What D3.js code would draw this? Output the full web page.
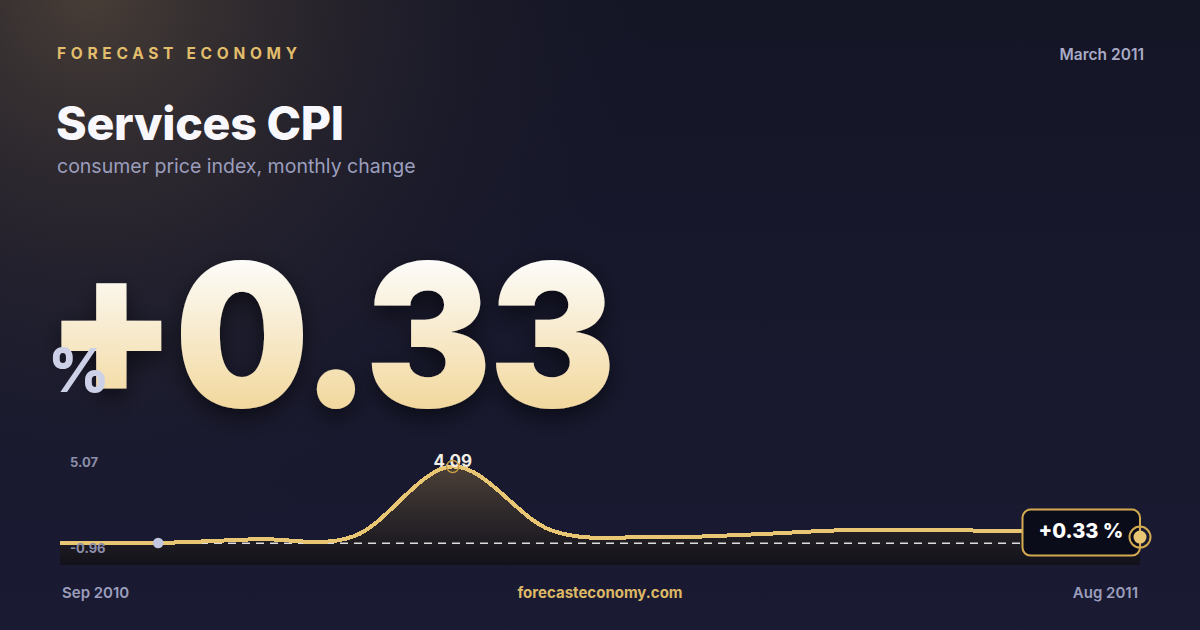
<!DOCTYPE html>
<html><head><meta charset="utf-8">
<script src="https://cdn.jsdelivr.net/npm/d3@7"></script>
<style>
html,body{margin:0;padding:0;background:#15162a;overflow:hidden;}
svg{display:block;font-family:Inter,"Noto Sans",sans-serif;}
</style>
</head><body>
<svg id="chart" width="1200" height="630"></svg>
<script>
// ---- data ----
const months = ["Sep 2010","Oct 2010","Nov 2010","Dec 2010","Jan 2011","Feb 2011","Mar 2011","Apr 2011","May 2011","Jun 2011","Jul 2011","Aug 2011"];
const values = [0.03, 0.02, 0.22, 0.39, 4.09, 0.70, 0.32, 0.46, 0.70, 0.70, 0.60, 0.33];
const yTickLabels = ["5.07", "-0.96"];
const xEndLabels = ["Sep 2010", "Aug 2011"];
const headlineSign = "+";
const headlineNumber = "0.33";
const headlineUnit = "%";
const brand = "FORECAST ECONOMY";
const dateLabel = "March 2011";
const title = "Services CPI";
const subtitle = "consumer price index, monthly change";
const site = "forecasteconomy.com";
const lastLabel = "+0.33 %";

// ---- setup ----
const svg = d3.select("#chart");
const W = 1200, H = 630;
const defs = svg.append("defs");

const bg = defs.append("linearGradient").attr("id","bg").attr("x1",0).attr("y1",0).attr("x2",0).attr("y2",1);
bg.append("stop").attr("offset","0%").attr("stop-color","#141525");
bg.append("stop").attr("offset","100%").attr("stop-color","#1a1b33");

const glow = defs.append("radialGradient").attr("id","glow").attr("gradientUnits","userSpaceOnUse")
  .attr("cx",90).attr("cy",-10).attr("r",560);
glow.append("stop").attr("offset","0%").attr("stop-color","#51453a").attr("stop-opacity",0.85);
glow.append("stop").attr("offset","45%").attr("stop-color","#3a3232").attr("stop-opacity",0.45);
glow.append("stop").attr("offset","100%").attr("stop-color","#1a1a2e").attr("stop-opacity",0);

const numGrad = defs.append("linearGradient").attr("id","numGrad").attr("gradientUnits","userSpaceOnUse")
  .attr("x1",0).attr("y1",260).attr("x2",0).attr("y2",408);
numGrad.append("stop").attr("offset","0%").attr("stop-color","#fdfcf9");
numGrad.append("stop").attr("offset","100%").attr("stop-color","#f2d89e");

const areaGrad = defs.append("linearGradient").attr("id","areaGrad").attr("gradientUnits","userSpaceOnUse")
  .attr("x1",0).attr("y1",448).attr("x2",0).attr("y2",565);
areaGrad.append("stop").attr("offset","0%").attr("stop-color","#5a4c3c").attr("stop-opacity",0.95);
areaGrad.append("stop").attr("offset","55%").attr("stop-color","#302a2b").attr("stop-opacity",0.95);
areaGrad.append("stop").attr("offset","100%").attr("stop-color","#121119").attr("stop-opacity",0.95);

const shadow = defs.append("filter").attr("id","shadow").attr("x","-20%").attr("y","-20%").attr("width","140%").attr("height","150%");
shadow.append("feDropShadow").attr("dx",0).attr("dy",8).attr("stdDeviation",12)
  .attr("flood-color","#000").attr("flood-opacity",0.55);

svg.append("rect").attr("width",W).attr("height",H).attr("fill","url(#bg)");
svg.append("rect").attr("width",W).attr("height",H).attr("fill","url(#glow)");

// ---- header ----
svg.append("text").attr("x",57).attr("y",59).text(brand)
  .attr("fill","#e2bd6b").attr("font-size",15.5).attr("font-weight",700).attr("letter-spacing",4.7);
svg.append("text").attr("x",1144).attr("y",60).attr("text-anchor","end").text(dateLabel)
  .attr("fill","#a9abc6").attr("font-size",15.5).attr("font-weight",600);
svg.append("text").attr("x",56).attr("y",140).text(title)
  .attr("fill","#f8f8fc").attr("font-size",46.5).attr("font-weight",800).attr("letter-spacing",-0.3);
svg.append("text").attr("x",57).attr("y",173).text(subtitle)
  .attr("fill","#9c9ebd").attr("font-size",19.5).attr("font-weight",400);

// ---- big number ----
const bigG = svg.append("g").attr("transform","translate(57,0) scale(0.95,1)");
const big = bigG.append("text").attr("x",-12).attr("y",407)
  .attr("fill","url(#numGrad)").attr("font-size",200).attr("font-weight",900)
  .attr("letter-spacing",-3).attr("filter","url(#shadow)");
big.append("tspan").attr("dy",-12).text(headlineSign);
big.append("tspan").attr("dy",12).text(headlineNumber);
svg.append("text").attr("x",48).attr("y",392).text(headlineUnit)
  .attr("fill","#cdd1e8").attr("font-size",60).attr("font-weight",800);

// ---- chart ----
const x = d3.scalePoint().domain(months).range([60,1140]);
const lo = d3.min(values), hi = d3.max(values), pad = (hi-lo)*0.24;
const y = d3.scaleLinear().domain([lo-pad, hi+pad]).range([561.3,448.1]);
const bottom = 565;

const area = d3.area().x((d,i)=>x(months[i])).y0(bottom).y1(d=>y(d)).curve(d3.curveCardinal);
const line = d3.line().x((d,i)=>x(months[i])).y(d=>y(d)).curve(d3.curveCardinal);

svg.append("path").datum(values).attr("d",area).attr("fill","url(#areaGrad)");

svg.append("line").attr("x1",x.range()[0]).attr("x2",x.range()[1]).attr("y1",y(0)).attr("y2",y(0))
  .attr("stroke","#ffffff").attr("stroke-opacity",0.85).attr("stroke-width",1.5).attr("stroke-dasharray","8,6");

svg.append("path").datum(values).attr("d",line).attr("fill","none")
  .attr("stroke","#e8c674").attr("stroke-width",4).attr("shape-rendering","crispEdges");

// y labels
svg.append("text").attr("x",70).attr("y",y(hi+pad)+18.5).text(yTickLabels[0])
  .attr("fill","#8c8eaa").attr("font-size",13).attr("font-weight",700);
svg.append("text").attr("x",70).attr("y",y(lo-pad)-8.5).text(yTickLabels[1])
  .attr("fill","#8c8eaa").attr("font-size",13).attr("font-weight",700);

// min marker
const iMin = d3.minIndex(values);
svg.append("circle").attr("cx",x(months[iMin])).attr("cy",y(values[iMin])).attr("r",5.3).attr("fill","#c3c6e0");

// max marker
const iMax = d3.maxIndex(values);
svg.append("text").attr("x",x(months[iMax])).attr("y",y(values[iMax])+1).attr("text-anchor","middle")
  .text(d3.format(".2f")(values[iMax])).attr("fill","#f1eee6").attr("font-size",17).attr("font-weight",700);
svg.append("circle").attr("cx",x(months[iMax])).attr("cy",y(values[iMax])).attr("r",6)
  .attr("fill","none").attr("stroke","#c9a049").attr("stroke-width",1.5);

// last value box
const iLast = values.length-1;
const lx = x(months[iLast]), ly = y(values[iLast]);
svg.append("rect").attr("x",lx-117.5).attr("y",ly-27.5).attr("width",117.5).attr("height",46).attr("rx",8)
  .attr("fill","#0b0c1a").attr("stroke","#d4aa50").attr("stroke-width",2);
svg.append("text").attr("x",lx-59).attr("y",ly+0.5).attr("text-anchor","middle").text(lastLabel)
  .attr("fill","#ffffff").attr("font-size",20).attr("font-weight",800);
svg.append("circle").attr("cx",lx).attr("cy",ly).attr("r",10.5).attr("fill","none")
  .attr("stroke","#d4aa50").attr("stroke-width",2);
svg.append("circle").attr("cx",lx).attr("cy",ly).attr("r",6.5).attr("fill","#e8c674");

// ---- footer ----
svg.append("text").attr("x",62).attr("y",598).text(xEndLabels[0])
  .attr("fill","#9c9ebd").attr("font-size",15).attr("font-weight",600);
svg.append("text").attr("x",1138).attr("y",598).attr("text-anchor","end").text(xEndLabels[1])
  .attr("fill","#9c9ebd").attr("font-size",15).attr("font-weight",600);
svg.append("text").attr("x",600).attr("y",598).attr("text-anchor","middle").text(site)
  .attr("fill","#ddb866").attr("font-size",15).attr("font-weight",700);
</script>
</body></html>
